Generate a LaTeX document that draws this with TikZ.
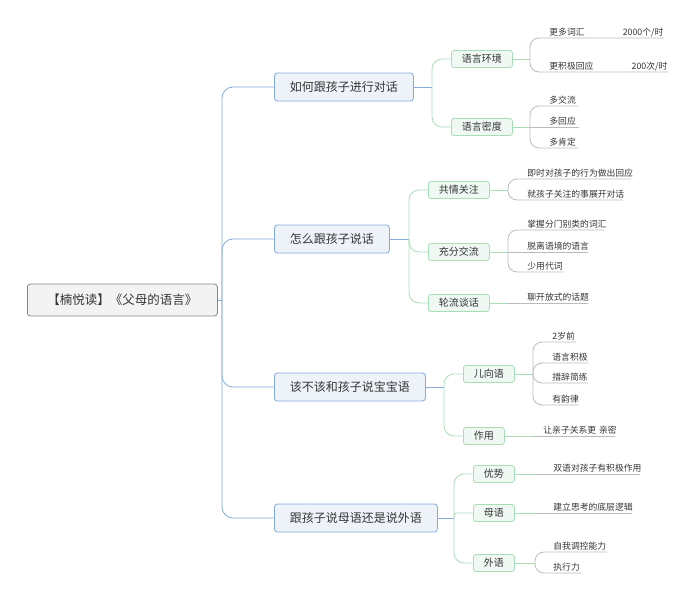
\documentclass[tikz,border=0pt]{standalone}
\usepackage{fontspec}
\setmainfont{Noto Sans CJK SC}
\definecolor{txt}{HTML}{353535}
\definecolor{rootdraw}{HTML}{858585}
\definecolor{rootfill}{HTML}{F3F3F3}
\definecolor{blue line}{HTML}{84AADA}
\definecolor{blue fill}{HTML}{EEF3FA}
\definecolor{green line}{HTML}{A9DDB7}
\definecolor{green fill}{HTML}{EFF8F2}
\definecolor{gray line}{HTML}{BBBBBB}

\begin{document}
\begin{tikzpicture}[x=1pt,y=-1pt,line width=0.8pt,
  root node/.style={draw=rootdraw,fill=rootfill,rounded corners=3pt,text=txt,
    minimum height=32pt,inner xsep=20pt,anchor=west,font=\fontsize{12.5}{15}\selectfont},
  main node/.style={draw=blue line,fill=blue fill,rounded corners=3pt,text=txt,
    minimum height=28pt,inner xsep=15.5pt,anchor=west,font=\fontsize{12}{14}\selectfont},
  sub node/.style={draw=green line,fill=green fill,rounded corners=2.5pt,text=txt,
    minimum height=17pt,inner xsep=10.5pt,anchor=west,font=\fontsize{10}{12}\selectfont},
  leaf node/.style={anchor=south west,inner xsep=0pt,inner ysep=2.5pt,text depth=0pt,
    align=left,text=txt,font=\fontsize{8.8}{10}\selectfont},
  bline/.style={draw=blue line,rounded corners=11pt},
  gline/.style={draw=green line,rounded corners=10pt},
  lline/.style={draw=gray line,rounded corners=9pt}]

  \useasboundingbox (0,0) rectangle (693,600);

  \node[root node] (root) at (27,300) {【楠悦读】《父母的语言》};

  \node[main node] (how)  at (274,87)  {如何跟孩子进行对话};
  \node[main node] (talk) at (274,239) {怎么跟孩子说话};
  \node[main node] (baby) at (274,387) {该不该和孩子说宝宝语};
  \node[main node] (lang) at (274,518) {跟孩子说母语还是说外语};

  \node[sub node] (env)     at (451,59)  {语言环境};
  \node[sub node] (dens)    at (451,127) {语言密度};
  \node[sub node] (empathy) at (428,190) {共情关注};
  \node[sub node] (enough)  at (428,252) {充分交流};
  \node[sub node] (turns)   at (428,303) {轮流谈话};
  \node[sub node] (babytalk) at (463,374) {儿向语};
  \node[sub node] (use)     at (463,436) {作用};
  \node[sub node] (pro)     at (473,474) {优势};
  \node[sub node] (mother)  at (473,513) {母语};
  \node[sub node] (foreign) at (473,563) {外语};

  % leaves
  \node[leaf node,text width=114pt] (vocab)  at (549,38)  {更多词汇\hfill 2000个/时};
  \node[leaf node,text width=118pt] (resp)   at (549,72)  {更积极回应\hfill 200次/时};
  \node[leaf node,text width=28pt]  (more)   at (549,106) {多交流};
  \node[leaf node,text width=29pt]  (reply)  at (549,127) {多回应};
  \node[leaf node,text width=28pt]  (praise) at (549,148) {多肯定};

  \node[leaf node,text width=103pt] (now)     at (527,179) {即时对孩子的行为做出回应};
  \node[leaf node,text width=95pt]  (focus)   at (527,200) {就孩子关注的事展开对话};
  \node[leaf node,text width=76pt]  (sort)    at (527,230) {掌握分门别类的词汇};
  \node[leaf node,text width=60pt]  (context) at (527,252) {脱离语境的语言};
  \node[leaf node,text width=35pt]  (pron)    at (527,272) {少用代词};
  \node[leaf node,text width=60pt]  (open)    at (527,303) {聊开放式的话题};

  \node[leaf node,text width=23pt] (age)    at (552,342) {2岁前};
  \node[leaf node,text width=35pt] (pos)    at (552,363) {语言积极};
  \node[leaf node,text width=35pt] (short)  at (552,383) {措辞简练};
  \node[leaf node,text width=26pt] (rhythm) at (552,405) {有韵律};
  \node[leaf node,text width=71pt] (close)  at (543,436) {让亲子关系更~亲密};

  \node[leaf node,text width=86pt] (bi)    at (553,474) {双语对孩子有积极作用};
  \node[leaf node,text width=78pt] (logic) at (553,513) {建立思考的底层逻辑};
  \node[leaf node,text width=53pt] (self)  at (553,552) {自我调控能力};
  \node[leaf node,text width=27pt] (exec)  at (553,573) {执行力};

  \coordinate (s0) at (222,300);
  \coordinate (s1) at (432,87);
  \coordinate (s2) at (409,239);
  \coordinate (s3) at (444,387);
  \coordinate (s4) at (454,518);
  \coordinate (t1) at (530,59);
  \coordinate (t2) at (530,127);
  \coordinate (t3) at (508,190);
  \coordinate (t4) at (508,252);
  \coordinate (t5) at (508,303);
  \coordinate (t6) at (533,374);
  \coordinate (t7) at (533,436);
  \coordinate (t8) at (535,474);
  \coordinate (t9) at (535,513);
  \coordinate (t10) at (535,563);

  \draw[bline] (root.east) -- (s0);
  \foreach \n in {how,talk,baby,lang}
    \draw[bline] (s0) |- (\n.west);

  \draw[bline] (how.east) -- (s1);
  \draw[bline] (talk.east) -- (s2);
  \draw[bline] (baby.east) -- (s3);
  \draw[bline] (lang.east) -- (s4);
  \foreach \n in {env,dens} \draw[gline] (s1) |- (\n.west);
  \foreach \n in {empathy,enough,turns} \draw[gline] (s2) |- (\n.west);
  \foreach \n in {babytalk,use} \draw[gline] (s3) |- (\n.west);
  \foreach \n in {pro,foreign} \draw[gline] (s4) |- (\n.west);
  \draw[gline,rounded corners=2pt] (s4) |- (mother.west);

  \draw[gline] (env.east) -- (t1);
  \draw[gline] (dens.east) -- (t2);
  \draw[gline] (empathy.east) -- (t3);
  \draw[gline] (enough.east) -- (t4);
  \draw[gline] (turns.east) -- (t5);
  \draw[gline] (babytalk.east) -- (t6);
  \draw[gline] (use.east) -- (t7);
  \draw[gline] (pro.east) -- (t8);
  \draw[gline] (mother.east) -- (t9);
  \draw[gline] (foreign.east) -- (t10);

  \foreach \n in {vocab,resp} \draw[lline] (t1) |- (\n.south east);
  \foreach \n in {more,praise} \draw[lline] (t2) |- (\n.south east);
  \draw[lline] (t2) -- (reply.south east);
  \foreach \n in {now,focus} \draw[lline] (t3) |- (\n.south east);
  \foreach \n in {sort,pron} \draw[lline] (t4) |- (\n.south east);
  \draw[lline] (t4) -- (context.south east);
  \draw[lline] (t5) -- (open.south east);
  \foreach \n in {age,pos,short,rhythm} \draw[lline] (t6) |- (\n.south east);
  \draw[lline] (t7) -- (close.south east);
  \draw[lline] (t8) -- (bi.south east);
  \draw[lline] (t9) -- (logic.south east);
  \foreach \n in {self,exec} \draw[lline] (t10) |- (\n.south east);

\end{tikzpicture}
\end{document}
